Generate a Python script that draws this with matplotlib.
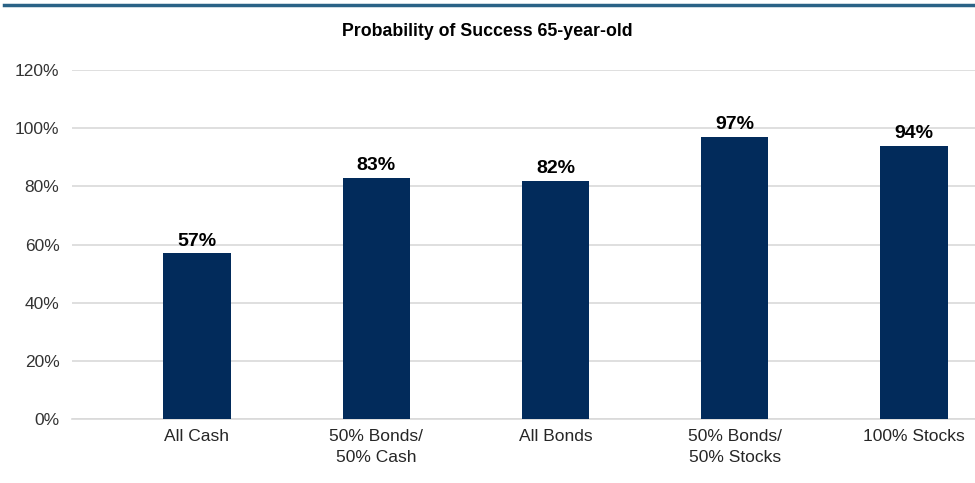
import numpy as np
import matplotlib.pyplot as plt
from matplotlib.lines import Line2D
from matplotlib.ticker import FuncFormatter

categories = ["All Cash", "50% Bonds/\n50% Cash", "All Bonds", "50% Bonds/\n50% Stocks", "100% Stocks"]
success = [57, 83, 82, 97, 94]
title = "Probability of Success 65-year-old"

plt.rcParams['font.family'] = ['Liberation Sans', 'DejaVu Sans']

fig = plt.figure(figsize=(9.75, 4.83), dpi=100)
ax = fig.add_axes([0.0738, 0.1325, 0.9262, 0.7225])

x = np.arange(len(categories))
bars = ax.bar(x, success, width=0.375, color='#022b5b', zorder=3)

for xi, v in zip(x, success):
    ax.text(xi, v + 1.2, f"{v}%", ha='center', va='bottom', fontsize=14,
            fontweight='bold', color='black')

ax.set_xlim(-0.697, 4.34)
ax.set_ylim(0, 120)
ax.set_yticks(np.arange(0, 121, 20))
ax.yaxis.set_major_formatter(FuncFormatter(lambda v, p: f"{int(v)}%"))
ax.set_xticks(x)
ax.set_xticklabels(categories, fontsize=12.5, color='#262626', linespacing=1.55)
ax.tick_params(axis='y', labelsize=12.5, labelcolor='#333333', length=0, pad=9)
ax.tick_params(axis='x', length=0, pad=7)
ax.grid(axis='y', color='#d9d9d9', linewidth=1.2, zorder=0)
ax.set_axisbelow(True)
for s in ax.spines.values():
    s.set_visible(False)
ax.spines['bottom'].set_visible(True)
ax.spines['bottom'].set_color('#d9d9d9')
ax.spines['bottom'].set_linewidth(1.2)

fig.text(0.5, 0.934, title, ha='center', va='center', fontsize=12.8, fontweight='bold')
fig.add_artist(Line2D([0.004, 1.0], [0.989, 0.989], color='#2a6286', linewidth=2.5,
                      transform=fig.transFigure))

fig.savefig('out.png', dpi=100)
